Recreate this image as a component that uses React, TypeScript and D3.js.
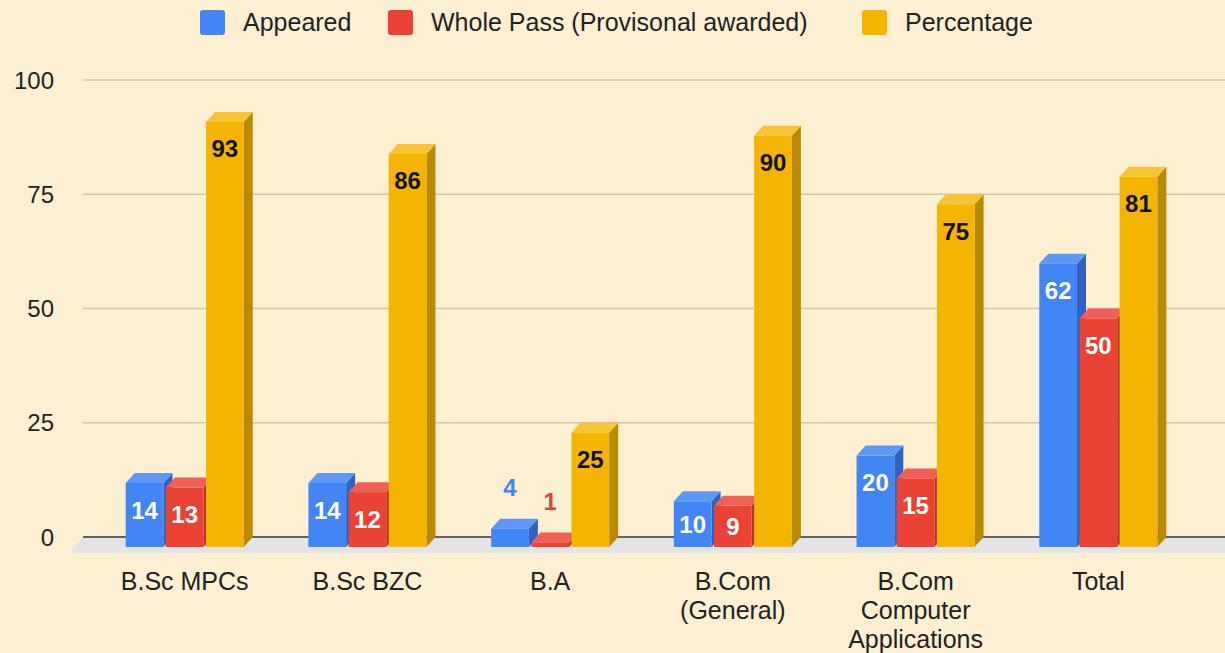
import React from "react";
import * as d3 from "d3";

const categories = ["B.Sc MPCs", "B.Sc BZC", "B.A", "B.Com (General)", "B.Com Computer Applications", "Total"];
const categoryLines = [["B.Sc MPCs"], ["B.Sc BZC"], ["B.A"], ["B.Com", "(General)"], ["B.Com", "Computer", "Applications"], ["Total"]];
const seriesNames = ["Appeared", "Whole Pass (Provisonal awarded)", "Percentage"];
const appeared = [14, 14, 4, 10, 20, 62];
const wholePass = [13, 12, 1, 9, 15, 50];
const percentage = [93, 86, 25, 90, 75, 81];
const yTicks = [0, 25, 50, 75, 100];

const W = 1225;
const H = 653;
const BG = "#FCEFD2";
const FONT = "'Liberation Sans', Arial, Roboto, sans-serif";

const palette = [
  { front: "#4285F4", top: "#5E98F6", side: "#2F63BF", labelOut: "#4285F4" },
  { front: "#EA4335", top: "#EF6156", side: "#B3342A", labelOut: "#EA4335" },
  { front: "#F4B400", top: "#F7C435", side: "#B98A00", labelOut: "#111" },
];
const insideText = ["#FFFFFF", "#FFFFFF", "#111111"];

const DX = 9;
const DY = 10;

export default function App() {
  const values = [appeared, wholePass, percentage];
  const y = d3.scaleLinear().domain([0, 100]).range([537, 80]);
  const x0 = d3.scaleBand<string>().domain(categories).range([61, 1222]).paddingInner(0.354).paddingOuter(0.354);
  const x1 = d3.scaleBand<string>().domain(seriesNames).range([0, x0.bandwidth()]).paddingInner(0.06);
  const bw = x1.bandwidth();
  const gridLeft = 83;

  const pts = (arr: number[][]) => arr.map((p) => p.join(",")).join(" ");

  const legendX = [200, 388, 862];

  return (
    <div style={{ position: "fixed", left: 0, top: 0, width: W, height: H, background: BG }}>
      <svg width={W} height={H} style={{ display: "block" }} fontFamily={FONT}>
        <rect x={0} y={0} width={W} height={H} fill={BG} />
        {/* legend */}
        {seriesNames.map((s, i) => (
          <g key={s}>
            <rect x={legendX[i]} y={10} width={25} height={25} rx={3} fill={palette[i].front} />
            <text x={legendX[i] + 43} y={31} fontSize={25} fill="#222">
              {s}
            </text>
          </g>
        ))}
        {/* floor */}
        <polygon points={pts([[gridLeft, y(0)], [W, y(0)], [W, y(0) + 16], [gridLeft - 13, y(0) + 16]])} fill="#E4E4E6" />
        {/* grid */}
        {yTicks.map((t) => (
          <g key={t}>
            <line
              x1={gridLeft}
              x2={W}
              y1={y(t)}
              y2={y(t)}
              stroke={t === 0 ? "#333" : "#D5C5A0"}
              strokeWidth={t === 0 ? 1.6 : 1.6}
            />
            <text x={54} y={y(t)} fontSize={24} fill="#222" textAnchor="end" dominantBaseline="central">
              {t}
            </text>
          </g>
        ))}
        {/* bars */}
        {categories.map((c, ci) => (
          <g key={c}>
            {seriesNames.map((s, si) => {
              const v = values[si][ci];
              const xl = (x0(c) as number) + (x1(s) as number);
              const xr = xl + bw;
              const top = y(v) + DY;
              const bottom = y(0) + DY;
              const col = palette[si];
              const h = bottom - top;
              const inside = h >= 40;
              const ly = inside ? top + Math.min(27, h / 2) : top - 41;
              return (
                <g key={s}>
                  <polygon points={pts([[xr, top], [xr + DX, top - DY], [xr + DX, bottom - DY], [xr, bottom]])} fill={col.side} />
                  <polygon points={pts([[xl, top], [xr, top], [xr + DX, top - DY], [xl + DX, top - DY]])} fill={col.top} />
                  <rect x={xl} y={top} width={bw} height={h} fill={col.front} />
                  <text
                    x={(xl + xr) / 2}
                    y={ly}
                    fontSize={24}
                    fontWeight="bold"
                    textAnchor="middle"
                    dominantBaseline="central"
                    fill={inside ? insideText[si] : col.labelOut}
                  >
                    {v}
                  </text>
                </g>
              );
            })}
          </g>
        ))}
        {/* x labels */}
        {categories.map((c, ci) => (
          <text key={c} x={(x0(c) as number) + x0.bandwidth() / 2} y={590} fontSize={25} fill="#222" textAnchor="middle">
            {categoryLines[ci].map((ln, li) => (
              <tspan key={li} x={(x0(c) as number) + x0.bandwidth() / 2} dy={li === 0 ? 0 : 29}>
                {ln}
              </tspan>
            ))}
          </text>
        ))}
      </svg>
    </div>
  );
}
